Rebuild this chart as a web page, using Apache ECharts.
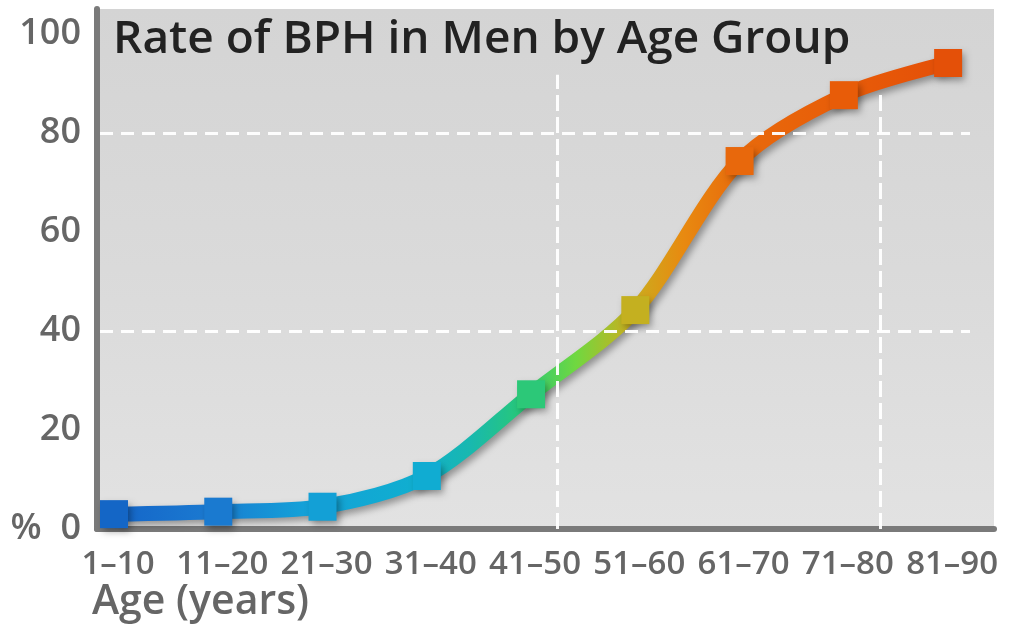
<!DOCTYPE html>
<html>
<head>
<meta charset="utf-8">
<script src="https://cdn.jsdelivr.net/npm/echarts@6/dist/echarts.min.js"></script>
<style>html,body{margin:0;padding:0;background:#fff}#c{width:1024px;height:640px}</style>
</head>
<body>
<div id="c"></div>
<script>
const titleText = 'Rate of BPH in Men by Age Group';
const xAxisTitle = 'Age (years)';
const categories = ['1–10','11–20','21–30','31–40','41–50','51–60','61–70','71–80','81–90'];
const rates = [3, 3.5, 4.5, 10.7, 27.2, 44.2, 74.3, 87.6, 94.1];
const pointColors = ['#1466c6','#1a7ad0','#13a0d6','#10acd2','#2cc878','#c4b020','#e8680c','#e85c08','#e45008'];
const yTicks = [0, 20, 40, 60, 80, 100];

const chart = echarts.init(document.getElementById('c'));
const FONT = '"Open Sans", "Noto Sans", sans-serif';

const lineGrad = new echarts.graphic.LinearGradient(0, 0, 1, 0, [
  {offset: 0, color: '#1464c8'},
  {offset: 0.113, color: '#1a78d0'},
  {offset: 0.229, color: '#14a0d8'},
  {offset: 0.359, color: '#10aed0'},
  {offset: 0.427, color: '#18b8b0'},
  {offset: 0.489, color: '#28c878'},
  {offset: 0.553, color: '#70d840'},
  {offset: 0.615, color: '#c8b020'},
  {offset: 0.679, color: '#e88a10'},
  {offset: 0.746, color: '#e86a0c'},
  {offset: 0.871, color: '#e85c08'},
  {offset: 1, color: '#e44e08'}
]);

const hDash = {color: '#ffffff', width: 3, type: [13, 8], opacity: 0.95};
const vDash = {color: '#ffffff', width: 3, type: [16, 6], opacity: 0.95};

chart.setOption({
  animation: false,
  title: [
    {text: titleText, left: 108, top: 12,
     textStyle: {fontFamily: FONT, fontSize: 46, fontWeight: 600, color: '#222222'}},
    {text: xAxisTitle, left: 87, top: 577,
     textStyle: {fontFamily: FONT, fontSize: 41, fontWeight: 600, color: '#666666'}}
  ],
  grid: {
    left: 97, right: 30, top: 9, bottom: 111,
    show: true, borderWidth: 0,
    backgroundColor: new echarts.graphic.LinearGradient(0, 0, 0, 1, [
      {offset: 0, color: '#d4d4d4'},
      {offset: 0.5, color: '#dadada'},
      {offset: 1, color: '#e2e2e2'}
    ])
  },
  xAxis: {
    type: 'value', min: -0.163, max: 8.44,
    axisLine: {show: true, onZero: false, lineStyle: {color: '#7a7a7a', width: 6}},
    axisTick: {show: false},
    splitLine: {show: false},
    axisLabel: {
      customValues: categories.map((c, i) => i),
      formatter: v => categories[Math.round(v)] || '',
      fontFamily: FONT, fontSize: 33, fontWeight: 600, color: '#666666', margin: 19,
      padding: [0, 0, 0, 8]
    }
  },
  yAxis: {
    type: 'value', min: 0, max: 105,
    axisLine: {show: true, onZero: false, lineStyle: {color: '#7a7a7a', width: 6}},
    axisTick: {show: false},
    splitLine: {show: false},
    axisLabel: {
      customValues: yTicks,
      formatter: v => v === 0 ? '%  0' : String(v),
      fontFamily: FONT, fontSize: 36, fontWeight: 600, color: '#666666', margin: 16,
      padding: [0, 0, 6, 0]
    }
  },
  series: [
    {
      type: 'line', data: [], z: 1, silent: true,
      markLine: {
        silent: true, symbol: 'none', label: {show: false},
        data: [
          [{coord: [-0.134, 40], lineStyle: hDash}, {coord: [8.21, 40]}],
          [{coord: [-0.134, 80], lineStyle: hDash}, {coord: [8.21, 80]}],
          [{coord: [4.25, 0], lineStyle: vDash}, {coord: [4.25, 91.7]}],
          [{coord: [7.35, 0], lineStyle: vDash}, {coord: [7.35, 88.7]}]
        ]
      }
    },
    {
      type: 'line', z: 3,
      smooth: 0.3,
      symbol: 'rect', symbolSize: 28,
      data: rates.map((v, i) => ({value: [i, v], itemStyle: {color: pointColors[i]}})),
      lineStyle: {width: 15, color: lineGrad, shadowColor: 'rgba(0,0,0,0.35)', shadowBlur: 7, shadowOffsetX: 3, shadowOffsetY: 4},
      itemStyle: {shadowColor: 'rgba(0,0,0,0.35)', shadowBlur: 7, shadowOffsetX: 3, shadowOffsetY: 4}
    }
  ]
});
</script>
</body>
</html>
